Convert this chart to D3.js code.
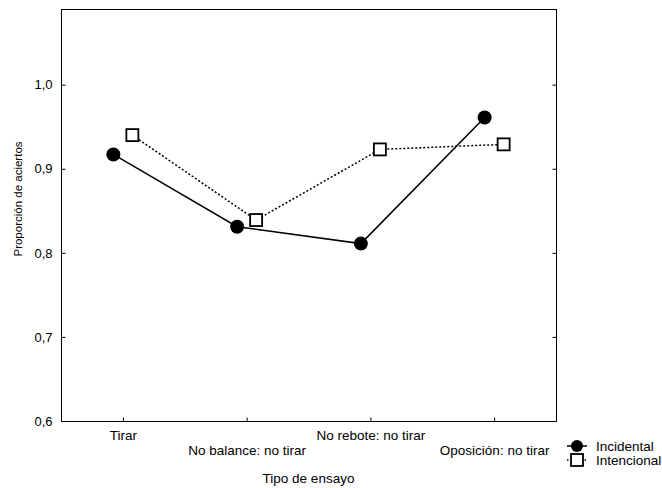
<!DOCTYPE html>
<html lang="es">
<head>
<meta charset="UTF-8">
<title>Proporción de aciertos</title>
<script src="https://cdn.jsdelivr.net/npm/d3@7"></script>
<style>
  body { margin: 0; background: #fff; }
  text { font-family: "Liberation Sans", Arial, sans-serif; font-size: 13.5px; fill: #000; }
</style>
</head>
<body>
<div id="chart"></div>
<script>
// data
var categories = ["Tirar", "No balance: no tirar", "No rebote: no tirar", "Oposición: no tirar"];
var incidental = [0.917, 0.831, 0.811, 0.961];
var intencional = [0.940, 0.839, 0.923, 0.929];
var yTicks = [0.6, 0.7, 0.8, 0.9, 1.0];
var seriesNames = ["Incidental", "Intencional"];

var W = 662, H = 488;
var m = {left: 61, right: 106, top: 9, bottom: 67};

var svg = d3.select("#chart").append("svg").attr("width", W).attr("height", H);

var x = d3.scalePoint().domain(categories).range([m.left, W - m.right]).padding(0.5);
var y = d3.scaleLinear().domain([0.6, 1.09]).range([H - m.bottom, m.top]);
var off = 9.5; // small shift so both series do not overlap

// frame
svg.append("rect")
  .attr("x", m.left + 0.5).attr("y", m.top + 0.5)
  .attr("width", W - m.right - m.left).attr("height", H - m.bottom - m.top)
  .attr("fill", "none").attr("stroke", "#000");

var fmt = function(d){ return d3.format(".1f")(d).replace(".", ","); };

var yl = svg.append("g").attr("transform", "translate(" + (m.left + 0.5) + ",0)")
  .call(d3.axisLeft(y).tickValues(yTicks).tickSizeInner(-4).tickSizeOuter(0).tickPadding(9).tickFormat(fmt));
var yr = svg.append("g").attr("transform", "translate(" + (W - m.right + 0.5) + ",0)")
  .call(d3.axisRight(y).tickValues(yTicks).tickSizeInner(-4).tickSizeOuter(0).tickFormat(""));
var xb = svg.append("g").attr("transform", "translate(0," + (H - m.bottom + 0.5) + ")")
  .call(d3.axisBottom(x).tickSizeInner(-4).tickSizeOuter(0).tickPadding(9));
xb.selectAll(".tick text").attr("dy", function(d, i){ return i % 2 ? "1.82em" : "0.71em"; });
[yl, yr, xb].forEach(function(g){
  g.select(".domain").remove();
  g.selectAll("text").attr("font-size", null).attr("font-family", null);
});
yl.selectAll("text").style("font-size", "13px");

// axis titles
svg.append("text").attr("transform", "translate(22,199) rotate(-90)")
  .attr("text-anchor", "middle").style("font-size", "11.5px").text("Proporción de aciertos");
svg.append("text").attr("x", (m.left + W - m.right) / 2).attr("y", 483)
  .attr("text-anchor", "middle").text("Tipo de ensayo");

// lines
var lineInc = d3.line().x(function(d, i){ return x(categories[i]) - off; }).y(function(d){ return y(d); });
var lineInt = d3.line().x(function(d, i){ return x(categories[i]) + off; }).y(function(d){ return y(d); });

svg.append("path").datum(intencional).attr("d", lineInt)
  .attr("fill", "none").attr("stroke", "#000").attr("stroke-width", 1.5).attr("stroke-dasharray", "2,2");
svg.append("path").datum(incidental).attr("d", lineInc)
  .attr("fill", "none").attr("stroke", "#000").attr("stroke-width", 1.5);

svg.selectAll("rect.int").data(intencional).enter().append("rect").attr("class", "int")
  .attr("x", function(d, i){ return x(categories[i]) + off - 6; })
  .attr("y", function(d){ return y(d) - 6; })
  .attr("width", 12).attr("height", 12)
  .attr("fill", "#fff").attr("stroke", "#000").attr("stroke-width", 1.8);
svg.selectAll("circle.inc").data(incidental).enter().append("circle").attr("class", "inc")
  .attr("cx", function(d, i){ return x(categories[i]) - off; })
  .attr("cy", function(d){ return y(d); })
  .attr("r", 7).attr("fill", "#000");

// legend
var lg = svg.append("g").attr("transform", "translate(577,446)");
lg.append("line").attr("x1", -10).attr("x2", 10).attr("y1", 0).attr("y2", 0)
  .attr("stroke", "#000").attr("stroke-width", 1.5);
lg.append("circle").attr("r", 6).attr("fill", "#000");
lg.append("text").attr("x", 19).attr("y", 4.5).text(seriesNames[0]);
lg.append("line").attr("x1", -10).attr("x2", 10).attr("y1", 14).attr("y2", 14)
  .attr("stroke", "#000").attr("stroke-width", 1.5).attr("stroke-dasharray", "1.5,2");
lg.append("rect").attr("x", -6).attr("y", 8).attr("width", 12).attr("height", 12)
  .attr("fill", "#fff").attr("stroke", "#000").attr("stroke-width", 1.8);
lg.append("text").attr("x", 19).attr("y", 18.5).text(seriesNames[1]);
</script>
</body>
</html>
